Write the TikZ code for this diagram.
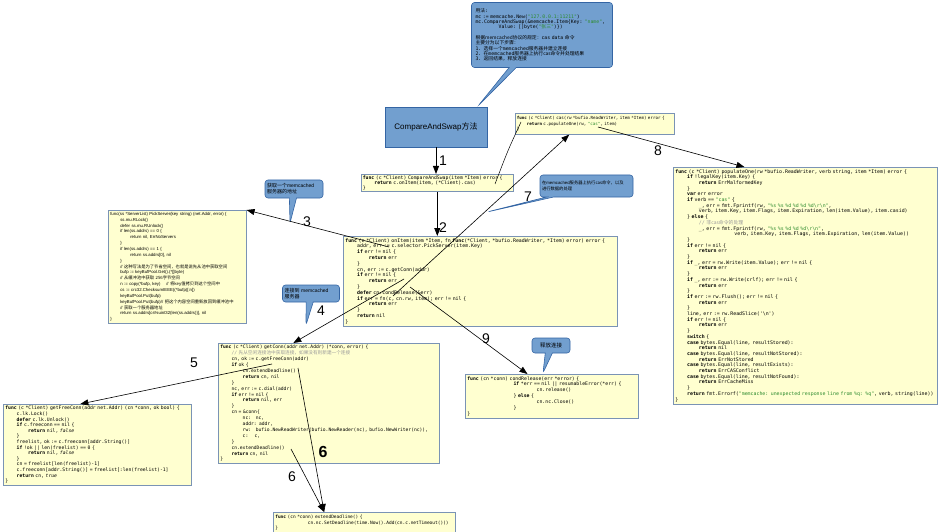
\documentclass[tikz,border=0pt]{standalone}
\usepackage{fontspec}
\setmainfont{Liberation Sans}
\setsansfont{Liberation Sans}
\setmonofont{DejaVu Sans Mono}
\newfontfamily\zhfont{Noto Sans CJK SC}
\usetikzlibrary{shapes.callouts,arrows.meta,calc}
\definecolor{codebg}{HTML}{FFFFD0}
\definecolor{boxline}{HTML}{7A93B5}
\definecolor{notebg}{HTML}{729FCF}
\definecolor{noteline}{HTML}{3465A4}
\definecolor{strgreen}{HTML}{2E8B2E}
\definecolor{cmtgray}{HTML}{9A9A9A}
\newcommand\zh[1]{{\zhfont #1}}
\newcommand\kw[1]{\textbf{#1}}
\newcommand\gostr[1]{\textcolor{strgreen}{#1}}
\newcommand\gocmt[1]{\textcolor{cmtgray}{#1}}
\newcommand\ind{\hspace*{2.41em}}
\newcommand\pind{\hspace*{10pt}}
\begin{document}
\begin{tikzpicture}[
x=1pt, y=-1pt,
code/.style={
draw=boxline,
fill=codebg,
line width=0.6pt,
anchor=north west,
align=left,
inner sep=2pt,
font=\ttfamily\fontsize{4.9}{5.8}\selectfont
},
note/.style={
rectangle callout,
draw=noteline,
fill=notebg,
rounded corners=3pt,
line width=0.6pt,
align=left,
inner sep=2pt,
font=\fontsize{5}{6}\selectfont
},
num/.style={inner sep=0pt, font=\fontsize{14}{14}\selectfont},
link/.style={-{Triangle[length=8pt,width=6pt]}, line width=0.6pt}
]
\useasboundingbox (0,0) rectangle (940,532);

\node[note, minimum width=141pt, minimum height=65pt, text width=133pt,
  font=\ttfamily\fontsize{4.8}{5.4}\selectfont,
  callout absolute pointer={(478,106)}] (usage) at (542,35) {
\zh{用法}:\\
mc := memcache.New(\gostr{"127.0.0.1:11211"})\\
mc.CompareAndSwap(\&memcache.Item\{Key: \gostr{"name"},\\
\ind\ind Value: []byte(\gostr{"\zh{张三}"})\})\\[5pt]
\zh{根据memcached协议的规定：}cas data \zh{命令}\\
\zh{主要分为以下步骤：}\\
1. \zh{选择一个}memcached\zh{服务器并建立连接}\\
2. \zh{在}memcached\zh{服务器上执行cas命令并处理结果}\\
3. \zh{返回结果，释放连接}};

\node[draw=noteline, fill=notebg, line width=0.6pt, minimum width=102pt, minimum height=40pt,
  font=\fontsize{8}{9}\selectfont] (method) at (436,127) {CompareAndSwap\zh{方法}};

\node[code, text width=149pt, minimum height=17pt, inner sep=1.5pt,
  font=\ttfamily\fontsize{4.8}{4.9}\selectfont] (casapi) at (361,174) {
\kw{func} (c *Client) CompareAndSwap(item *Item) error \{\\
\ind\kw{return} c.onItem(item, (*Client).cas)\\
\}};

\node[code, text width=156pt, minimum height=21pt, inner sep=1.5pt,
  font=\ttfamily\fontsize{4.2}{5.4}\selectfont] (cas) at (515,113) {
\kw{func} (c *Client) cas(rw *bufio.ReadWriter, item *Item) error \{\\
\ind\kw{return} c.populateOne(rw, \gostr{"cas"}, item)\\
\}};

\node[code, text width=270pt, minimum height=87pt] (onitem) at (343,236) {
\kw{func} (c *Client) onItem(item *Item, fn \kw{func}(*Client, *bufio.ReadWriter, *Item) error) error \{\\
\ind addr, err := c.selector.PickServer(item.Key)\\
\ind\kw{if} err != nil \{\\
\ind\ind\kw{return} err\\
\ind\}\\
\ind cn, err := c.getConn(addr)\\
\ind\kw{if} err != nil \{\\
\ind\ind\kw{return} err\\
\ind\}\\
\ind\kw{defer} cn.condRelease(\&err)\\
\ind\kw{if} err = fn(c, cn.rw, item); err != nil \{\\
\ind\ind\kw{return} err\\
\ind\}\\
\ind\kw{return} nil\\
\}};

\node[code, text width=134pt, minimum height=112pt,
  font=\fontsize{4.3}{5.85}\selectfont] (pick) at (108,210) {
func(ss *ServerList) PickServer(key string) (net.Addr, error) \{\\
\pind ss.mu.RLock()\\
\pind defer ss.mu.RUnlock()\\
\pind if len(ss.addrs) == 0 \{\\
\pind\pind return nil, ErrNoServers\\
\pind\}\\
\pind if len(ss.addrs) == 1 \{\\
\pind\pind return ss.addrs[0], nil\\
\pind\}\\
\pind // \zh{这种写法是为了节省空间，也就是说先从池中获取空间}\\
\pind bufp := keyBufPool.Get().(*[]byte)\\
\pind // \zh{从缓冲池中获取 256字节空间}\\
\pind n := copy(*bufp, key) \quad // \zh{将key值拷贝到这个空间中}\\
\pind cs := crc32.ChecksumIEEE((*bufp)[:n])\\
\pind keyBufPool.Put(bufp)\\
\pind keyBufPool.Put(bufp)// \zh{把这个内容空间重新放回到缓冲池中}\\
\pind // \zh{获取一个服务器地址}\\
\pind return ss.addrs[cs\%uint32(len(ss.addrs))], nil\\
\}};

\node[code, text width=260pt, minimum height=230pt,
  font=\ttfamily\fontsize{4.9}{5.7}\selectfont] (populate) at (673,167) {
\kw{func} (c *Client) populateOne(rw *bufio.ReadWriter, verb string, item *Item) error \{\\
\ind\kw{if} !legalKey(item.Key) \{\\
\ind\ind\kw{return} ErrMalformedKey\\
\ind\}\\
\ind\kw{var} err error\\
\ind\kw{if} verb == \gostr{"cas"} \{\\
\ind\ind\_, err = fmt.Fprintf(rw, \gostr{"\%s \%s \%d \%d \%d \%d\textbackslash r\textbackslash n"},\\
\ind\ind verb, item.Key, item.Flags, item.Expiration, len(item.Value), item.casid)\\
\ind\} \kw{else} \{\\
\ind\ind\gocmt{// \zh{非cas命令的处理}}\\
\ind\ind\_, err = fmt.Fprintf(rw, \gostr{"\%s \%s \%d \%d \%d\textbackslash r\textbackslash n"},\\
\ind\ind\ind\ind\ind verb, item.Key, item.Flags, item.Expiration, len(item.Value))\\
\ind\}\\
\ind\kw{if} err != nil \{\\
\ind\ind\kw{return} err\\
\ind\}\\
\ind\kw{if} \_, err = rw.Write(item.Value); err != nil \{\\
\ind\ind\kw{return} err\\
\ind\}\\
\ind\kw{if} \_, err := rw.Write(crlf); err != nil \{\\
\ind\ind\kw{return} err\\
\ind\}\\
\ind\kw{if} err := rw.Flush(); err != nil \{\\
\ind\ind\kw{return} err\\
\ind\}\\
\ind line, err := rw.ReadSlice('\textbackslash n')\\
\ind\kw{if} err != nil \{\\
\ind\ind\kw{return} err\\
\ind\}\\
\ind\kw{switch} \{\\
\ind\kw{case} bytes.Equal(line, resultStored):\\
\ind\ind\kw{return} nil\\
\ind\kw{case} bytes.Equal(line, resultNotStored):\\
\ind\ind\kw{return} ErrNotStored\\
\ind\kw{case} bytes.Equal(line, resultExists):\\
\ind\ind\kw{return} ErrCASConflict\\
\ind\kw{case} bytes.Equal(line, resultNotFound):\\
\ind\ind\kw{return} ErrCacheMiss\\
\ind\}\\
\ind\kw{return} fmt.Errorf(\gostr{"memcache: unexpected response line from \%q: \%q"}, verb, string(line))\\
\}};

\node[code, text width=217pt, minimum height=120pt,
  font=\ttfamily\fontsize{4.65}{5.9}\selectfont] (getconn) at (218,343) {
\kw{func} (c *Client) getConn(addr net.Addr) (*conn, error) \{\\
\ind\gocmt{// \zh{先从空闲连接池中获取连接，如果没有则新建一个连接}}\\
\ind cn, ok := c.getFreeConn(addr)\\
\ind\kw{if} ok \{\\
\ind\ind cn.extendDeadline()\\
\ind\ind\kw{return} cn, nil\\
\ind\}\\
\ind nc, err := c.dial(addr)\\
\ind\kw{if} err != nil \{\\
\ind\ind\kw{return} nil, err\\
\ind\}\\
\ind cn = \&conn\{\\
\ind\ind nc:\ \ \ nc,\\
\ind\ind addr: addr,\\
\ind\ind rw:\ \ \ bufio.NewReadWriter(bufio.NewReader(nc), bufio.NewWriter(nc)),\\
\ind\ind c:\ \ \ \ c,\\
\ind\}\\
\ind cn.extendDeadline()\\
\ind\kw{return} cn, nil\\
\}};

\node[code, text width=184pt, minimum height=80pt,
  font=\ttfamily\fontsize{4.75}{5.6}\selectfont] (freeconn) at (3,404) {
\kw{func} (c *Client) getFreeConn(addr net.Addr) (cn *conn, ok bool) \{\\
\ind c.lk.Lock()\\
\ind\kw{defer} c.lk.Unlock()\\
\ind\kw{if} c.freeconn == nil \{\\
\ind\ind\kw{return} nil, \textit{false}\\
\ind\}\\
\ind freelist, ok := c.freeconn[addr.String()]\\
\ind\kw{if} !ok || len(freelist) == 0 \{\\
\ind\ind\kw{return} nil, \textit{false}\\
\ind\}\\
\ind cn = freelist[len(freelist)-1]\\
\ind c.freeconn[addr.String()] = freelist[:len(freelist)-1]\\
\ind\kw{return} cn, \textit{true}\\
\}};

\node[code, text width=169pt, minimum height=44pt,
  font=\ttfamily\fontsize{4.8}{5.9}\selectfont] (condrel) at (465,374) {
\kw{func} (cn *conn) condRelease(err *error) \{\\
\ind\ind\ind\ind\kw{if} *err == nil || resumableError(*err) \{\\
\ind\ind\ind\ind\ind\ind cn.release()\\
\ind\ind\ind\ind\} \kw{else} \{\\
\ind\ind\ind\ind\ind\ind cn.nc.Close()\\
\ind\ind\ind\ind\}\\
\}};

\node[code, text width=178pt, minimum height=21pt,
  font=\ttfamily\fontsize{4.5}{5.3}\selectfont] (extend) at (273,512) {
\kw{func} (cn *conn) extendDeadline() \{\\
\ind\ind\ind cn.nc.SetDeadline(time.Now().Add(cn.c.netTimeout()))\\
\}};

\node[note, minimum width=58pt, minimum height=18pt, text width=54pt,
  callout absolute pointer={(290,223)}] (note-pick) at (294,189) {\zh{获取一个}memcached\\\zh{服务器的地址}};
\node[note, minimum width=57pt, minimum height=17pt, text width=53pt,
  callout absolute pointer={(306,325)}] (note-conn) at (311,293.5) {\zh{连接到} memcached\\\zh{服务器}};
\node[note, minimum width=93pt, minimum height=22pt, text width=89pt,
  font=\fontsize{4.3}{5.4}\selectfont,
  callout absolute pointer={(487,212)}] (note-exec) at (586.5,186) {\zh{在}memcached\zh{服务器上执行cas命令，以及}\\\zh{进行数据的处理}};
\node[note, minimum width=38pt, minimum height=15pt, align=center,
  font=\fontsize{5.5}{6}\selectfont,
  callout absolute pointer={(543,373)}] (note-rel) at (551,345.5) {\zh{释放连接}};

\coordinate (cas-call) at (495,184);
\coordinate (cas-in) at (521,122);
\coordinate (pick-call) at (389,247);
\coordinate (conn-call) at (404,279);
\coordinate (fn-call) at (393,296);
\coordinate (rel-call) at (410,287);
\coordinate (pop-call) at (598,127);
\coordinate (free-call) at (272,364);
\coordinate (ext-call1) at (298,368);
\coordinate (ext-call2) at (291,449);

\draw[link, line width=0.9pt] (method.south) -- (method.south |- casapi.north);
\draw[link, line width=0.9pt] (casapi.south) -- (casapi.south |- onitem.north);
\draw[line width=0.5pt] (cas-call) .. controls (508,150) .. (cas-in);
\draw[link] (pick-call) -- (pick.north east);
\draw[link] (conn-call) -- ($(getconn.north west)!0.34!(getconn.north east)$);
\draw[link] (free-call) -- ($(freeconn.north west)!0.41!(freeconn.north east)$);
\draw[link] (ext-call1) -- ($(extend.north west)!0.28!(extend.north east)$);
\draw[link] (ext-call2) -- ($(extend.north west)!0.28!(extend.north east)$);
\draw[link] (fn-call) -- ($(cas.south west)!0.34!(cas.south east)$);
\draw[link] (pop-call) -- ($(populate.north west)!0.27!(populate.north east)$);
\draw[link] (rel-call) -- ($(condrel.north west)!0.36!(condrel.north east)$);

\node[num] (n1) at (443,161) {1};
\node[num] (n2) at (443,228) {2};
\node[num] (n3) at (307,222) {3};
\node[num] (n4) at (321,311) {4};
\node[num] (n5) at (194,363) {5};
\node[num, font=\bfseries\fontsize{16}{16}\selectfont] (n6a) at (323,452) {6};
\node[num] (n6b) at (292,477) {6};
\node[num] (n7) at (528,197) {7};
\node[num] (n8) at (658,151) {8};
\node[num] (n9) at (486,339) {9};
\end{tikzpicture}
\end{document}
